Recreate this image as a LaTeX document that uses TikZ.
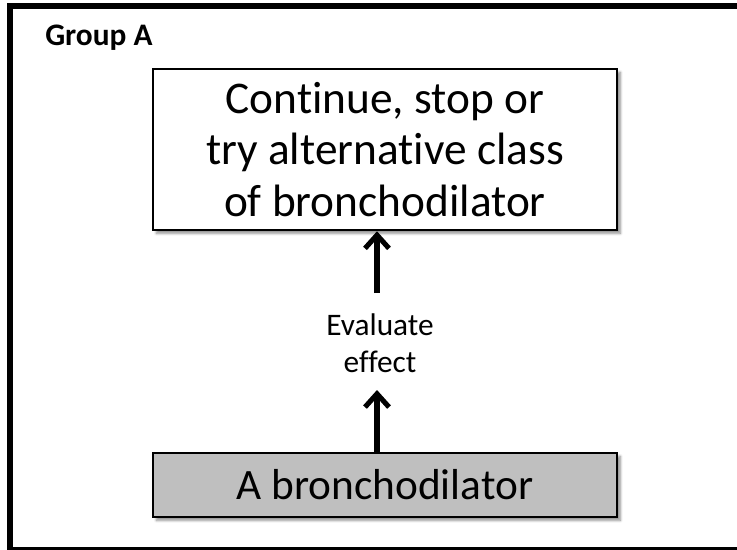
\documentclass[tikz,border=0pt]{standalone}
\usepackage{fontspec}
\setmainfont{Carlito}[Ligatures=NoCommon]
\usetikzlibrary{arrows.meta,shadows.blur}
\begin{document}
\begin{tikzpicture}[x=0.75pt,y=-0.75pt,
  frame/.style={line width=4.2pt},
  boxsh/.style={blur shadow={shadow xshift=2.5pt,shadow yshift=-2.5pt,shadow blur steps=6,shadow opacity=45}},
  topbox/.style={draw=black, line width=1.9pt, fill=white, boxsh, align=center,
    minimum width=348pt, minimum height=120.75pt, inner sep=0pt,
    font=\fontsize{34}{38.5}\selectfont},
  botbox/.style={draw=black, line width=2pt, fill=boxgray, boxsh,
    minimum width=348pt, minimum height=48pt, inner sep=0pt,
    font=\fontsize{32.5}{38}\selectfont},
  lbl/.style={align=center, inner sep=0pt, font=\fontsize{23.5}{28}\selectfont},
  arr/.style={line width=3.8pt, -{Straight Barb[length=10pt,width=18pt]}},
]
\definecolor{boxgray}{HTML}{BFBFBF}
\useasboundingbox (0,0) rectangle (737,549);
\begin{scope}
\clip (0,0) rectangle (737,549);
\draw[frame] (10,6) rectangle (770,550);
\end{scope}
\node[anchor=base west, inner sep=0pt, font=\bfseries\fontsize{23.5}{27}\selectfont] (title) at (45,46) {Group A};
\node[topbox] (top) at (385,149.5) {Continue, stop or\\try alternative class\\of bronchodilator};
\node[botbox] (bot) at (385,485) {A bronchodilator};
\node[lbl] (eval) at (380,343) {Evaluate\\effect};
\coordinate (u1) at (377,293);
\coordinate (l2) at (377,390);
\draw[arr] (u1) -- (u1 |- top.south);
\draw[arr] (bot.north -| l2) -- (l2);
\end{tikzpicture}
\end{document}
